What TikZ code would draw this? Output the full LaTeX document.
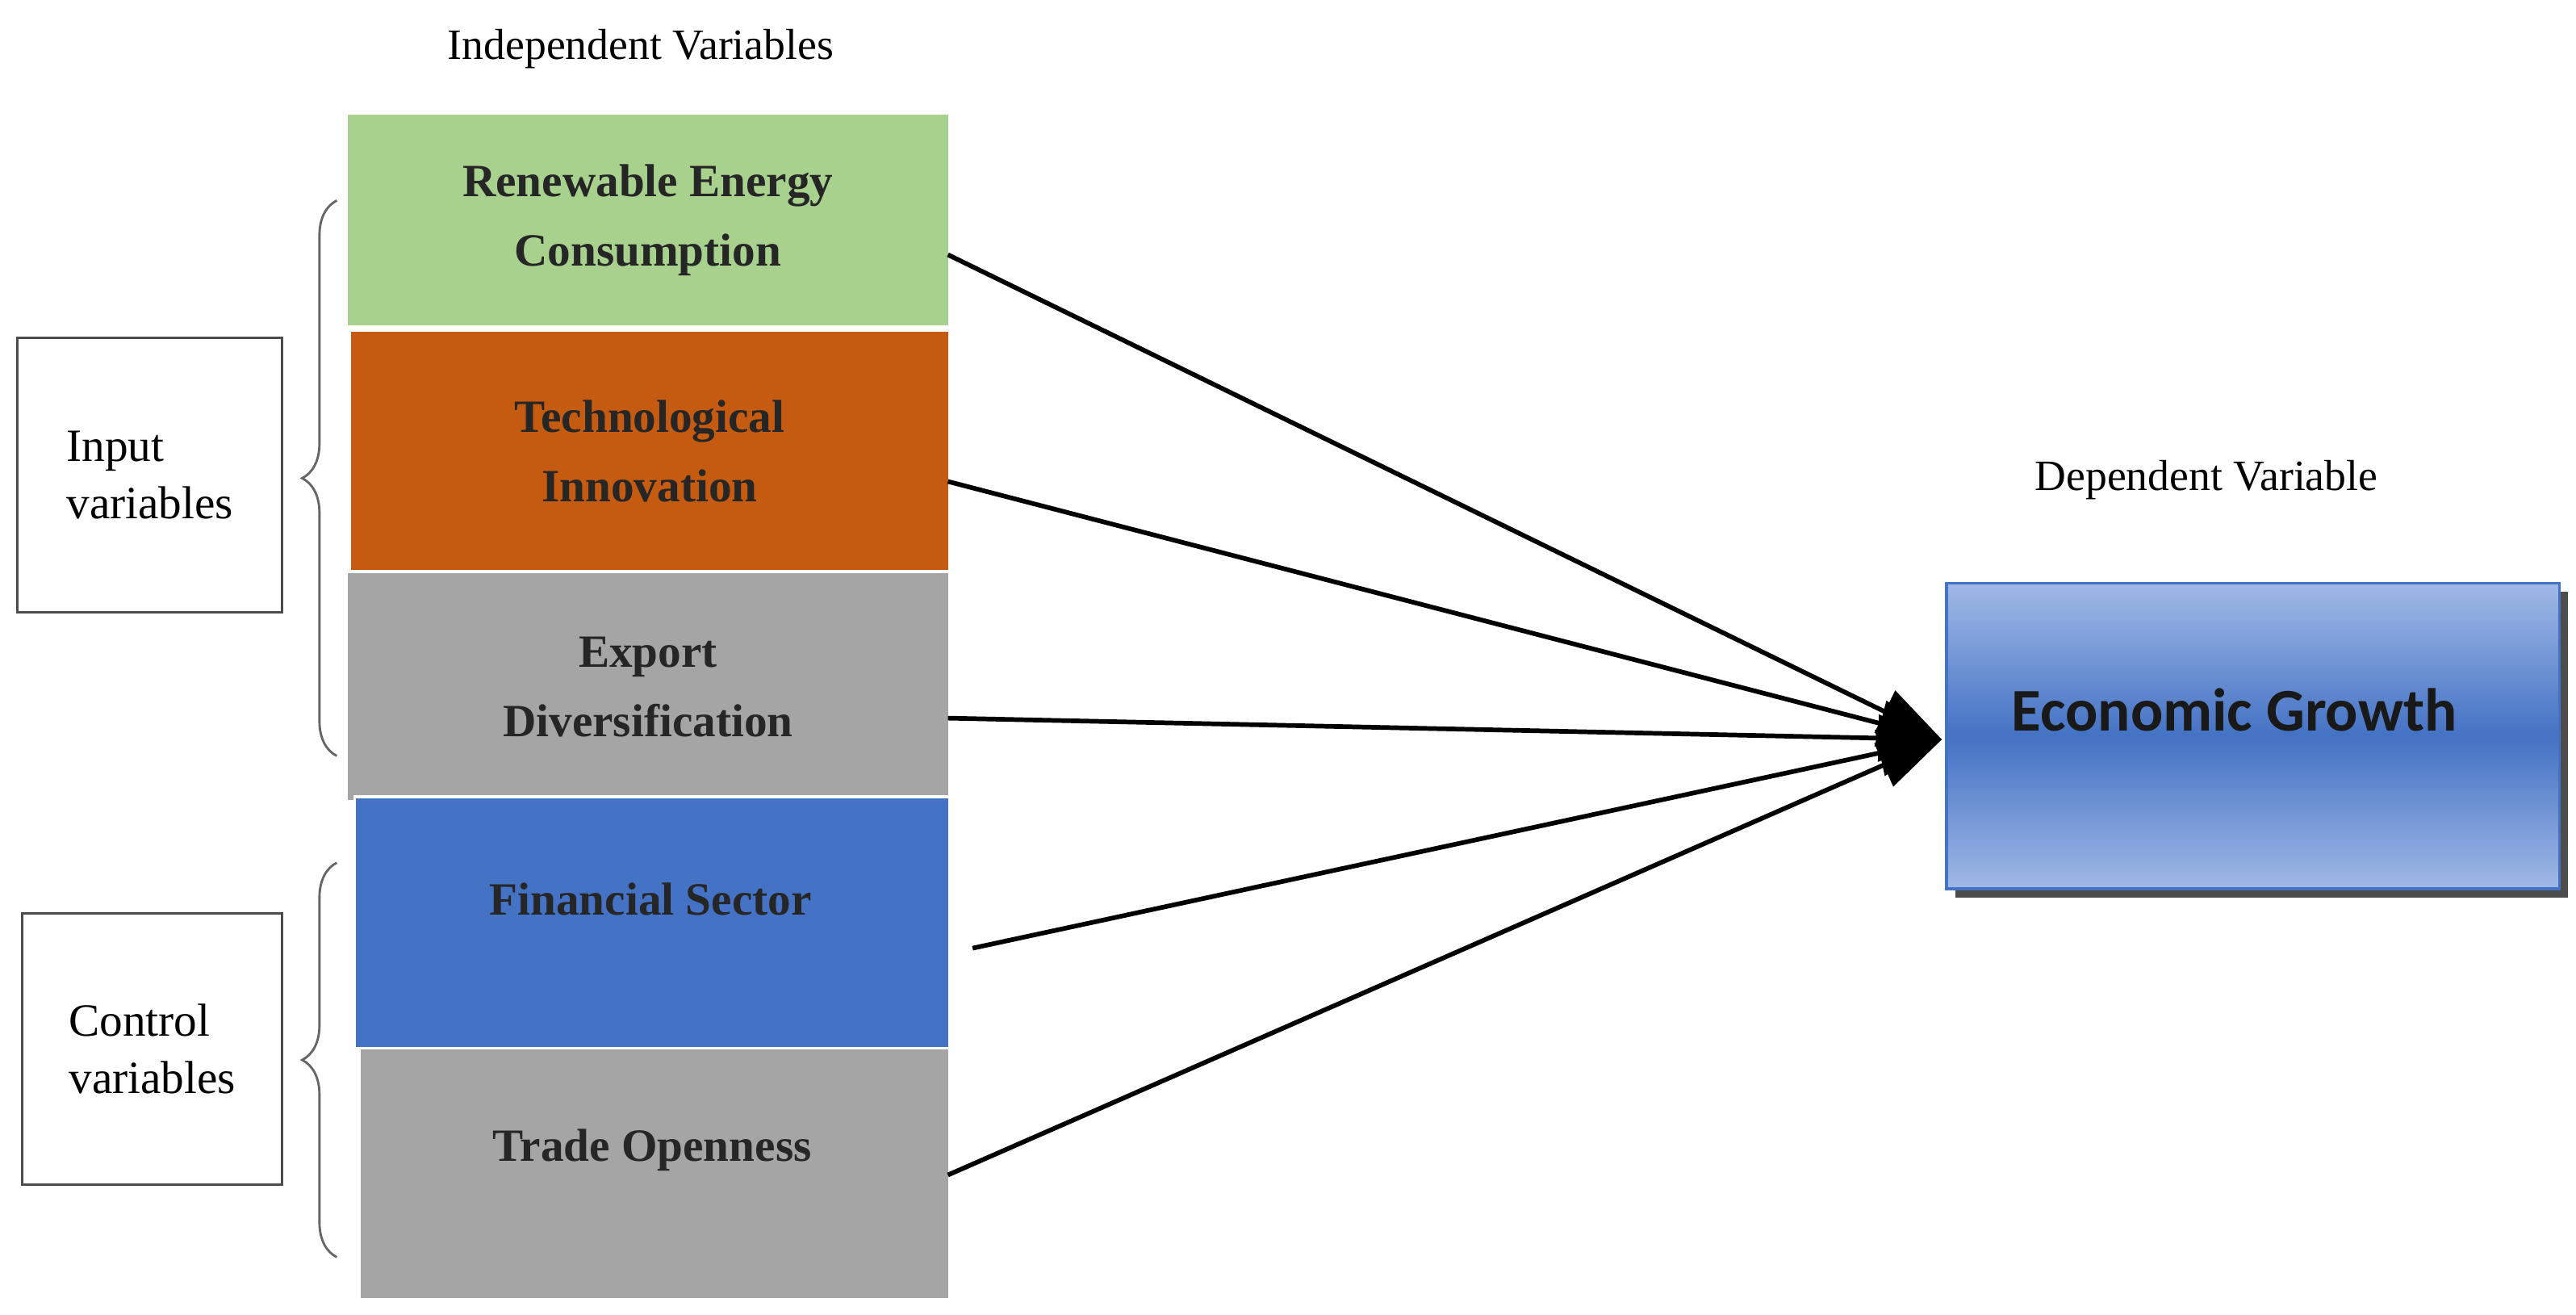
\documentclass[tikz,border=0pt]{standalone}
\usepackage{fontspec}
\setmainfont{Liberation Serif}
\newfontfamily\carlitofont{Carlito}
\usetikzlibrary{arrows.meta,decorations.pathreplacing,shadows}
\begin{document}
\begin{tikzpicture}[x=0.02cm,y=-0.02cm,
  var/.style={draw=white,line width=1pt,align=center,font=\fontsize{16}{20}\selectfont\bfseries,text=black!85},
  lab/.style={draw=black!70,line width=0.8pt,fill=white,align=left,font=\fontsize{16}{20}\selectfont},
  br/.style={decorate,decoration={brace,amplitude=12pt},draw=black!60,line width=0.8pt},
  con/.style={line width=1.6pt,-{Triangle[length=22pt,width=16pt]}}]
\useasboundingbox (0,0) rectangle (1568,800);
\node[font=\fontsize{15}{18}\selectfont] (t1) at (390,30) {Independent Variables};
\node[var,fill={rgb,255:red,169;green,209;blue,142},minimum width=367*0.02cm,minimum height=130*0.02cm,anchor=north west] (b1) at (210,68) {Renewable Energy\\[4pt]Consumption};
\node[var,fill={rgb,255:red,197;green,90;blue,17},minimum width=365*0.02cm,minimum height=147*0.02cm,anchor=north west] (b2) at (212,200) {Technological\\[4pt]Innovation};
\node[var,fill={rgb,255:red,165;green,165;blue,165},minimum width=367*0.02cm,minimum height=140*0.02cm,anchor=north west] (b3) at (210,347) {Export\\[4pt]Diversification};
\node[var,fill={rgb,255:red,165;green,165;blue,165},minimum width=359*0.02cm,minimum height=153*0.02cm,anchor=north west] (b5) at (218,637) {};
\node[font=\fontsize{16}{20}\selectfont\bfseries,text=black!85] (t5) at (397,700) {Trade Openness};
\node[var,fill={rgb,255:red,68;green,114;blue,196},minimum width=362*0.02cm,minimum height=153*0.02cm,anchor=north west] (b4) at (215,484) {};
\node[font=\fontsize{16}{20}\selectfont\bfseries,text=black!85] (t4) at (396,547) {Financial Sector};
\node[lab,minimum width=161*0.02cm,minimum height=167*0.02cm,anchor=north west] (in) at (10,205) {Input\\variables};
\node[lab,minimum width=158*0.02cm,minimum height=165*0.02cm,anchor=north west] (ct) at (13,555) {Control\\variables};
\coordinate (i1) at (205,122); \coordinate (i2) at (205,460);
\coordinate (c1) at (205,525); \coordinate (c2) at (205,765);
\draw[br] (i2) -- (i1);
\draw[br] (c2) -- (c1);
\node[font=\fontsize{15}{18}\selectfont] (t2) at (1343,292) {Dependent Variable};
\node[draw={rgb,255:red,68;green,114;blue,196},line width=1pt,
  top color={rgb,255:red,160;green,185;blue,230},bottom color={rgb,255:red,160;green,185;blue,230},middle color={rgb,255:red,68;green,114;blue,196},
  drop shadow={shadow xshift=3pt,shadow yshift=-3pt,fill=black!70,opacity=1},
  minimum width=373*0.02cm,minimum height=186*0.02cm,anchor=north west] (eg) at (1184,354) {};
\node[font=\carlitofont\fontsize{21}{24}\selectfont\bfseries,text=black!90] (egt) at (1360,432) {Economic Growth};
\coordinate (tip) at (1182,450);
\coordinate (s1) at (577,155); \coordinate (s2) at (577,293); \coordinate (s3) at (577,437);
\coordinate (s4) at (592,577); \coordinate (s5) at (577,715);
\foreach \s in {s1,s2,s3,s4,s5} \draw[con] (\s) -- (tip);
\end{tikzpicture}
\end{document}
